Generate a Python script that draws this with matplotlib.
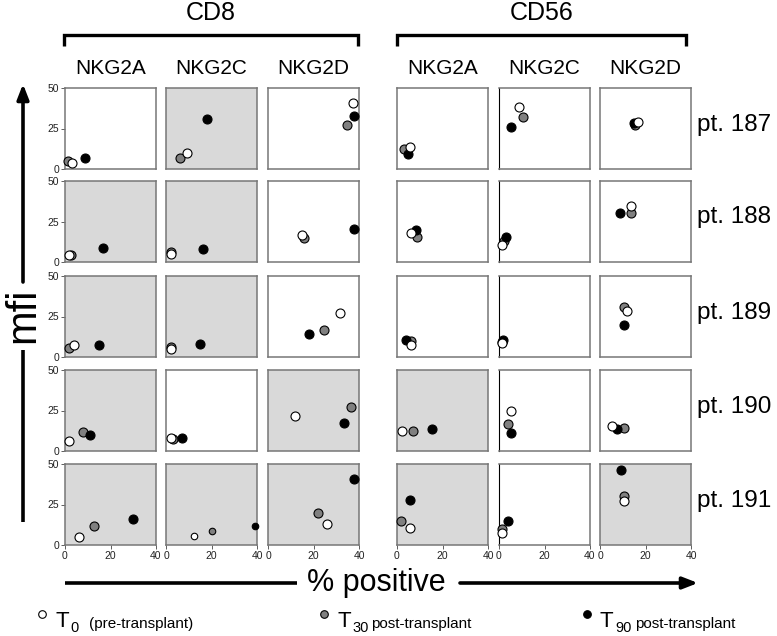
import matplotlib
matplotlib.use("Agg")
import matplotlib.pyplot as plt

plt.rcParams["font.family"] = ["Liberation Sans", "DejaVu Sans"]

groups = ["CD8", "CD56"]
receptors = ["NKG2A", "NKG2C", "NKG2D"]
patients = ["pt. 187", "pt. 188", "pt. 189", "pt. 190", "pt. 191"]

# columns: CD8 A, CD8 C, CD8 D, CD56 A, CD56 C, CD56 D
t0_pos = [
    [2.9, 9.1, 37.5, 5.7, 8.8, 16.8],
    [1.9, 2.2, 15.1, 6.2, 1.2, 13.5],
    [4.0, 2.2, 31.6, 6.2, 1.2, 12.0],
    [1.9, 2.2, 11.9, 2.3, 5.1, 5.1],
    [6.2, 12.2, 25.8, 5.7, 1.5, 10.4],
]
t0_mfi = [
    [3.9, 9.7, 40.6, 13.4, 38.3, 29.0],
    [4.3, 5.2, 16.7, 17.7, 10.5, 34.4],
    [7.1, 4.7, 27.4, 7.2, 8.6, 28.2],
    [6.4, 8.2, 21.4, 12.3, 24.7, 15.2],
    [5.0, 5.6, 12.8, 10.7, 7.6, 27.3],
]
t30_pos = [
    [1.5, 6.2, 34.6, 3.2, 10.7, 15.4],
    [2.5, 2.2, 16.0, 8.9, 2.2, 13.5],
    [1.9, 2.2, 24.8, 6.2, 1.5, 10.4],
    [7.8, 3.2, 36.6, 7.2, 4.1, 10.4],
    [12.9, 20.1, 21.8, 1.8, 1.5, 10.4],
]
t30_mfi = [
    [5.0, 7.0, 27.0, 12.3, 31.9, 27.0],
    [4.3, 6.2, 15.0, 15.2, 13.0, 30.0],
    [5.4, 6.0, 16.5, 9.9, 9.5, 31.0],
    [11.5, 7.2, 27.4, 12.3, 16.5, 14.4],
    [11.7, 8.6, 19.7, 14.6, 9.9, 30.2],
]
t90_pos = [
    [8.8, 18.0, 37.8, 5.0, 5.3, 15.1],
    [16.8, 16.1, 37.7, 8.4, 3.1, 8.9],
    [14.8, 15.1, 17.9, 4.0, 1.9, 10.4],
    [11.0, 7.2, 33.5, 15.3, 5.3, 7.5],
    [29.7, 39.0, 37.7, 5.7, 4.1, 9.2],
]
t90_mfi = [
    [6.8, 30.9, 33.0, 9.3, 25.9, 28.4],
    [8.4, 8.2, 20.6, 19.9, 15.6, 30.0],
    [7.1, 8.1, 14.2, 10.3, 10.3, 19.5],
    [10.1, 8.2, 17.3, 13.6, 11.1, 13.6],
    [15.9, 11.7, 40.9, 27.8, 14.6, 46.3],
]
# 1 = grey panel background
shaded = [
    [0, 1, 0, 0, 0, 0],
    [1, 1, 0, 0, 0, 0],
    [1, 1, 0, 0, 0, 0],
    [1, 0, 1, 1, 0, 0],
    [1, 1, 1, 1, 0, 1],
]

W, H = 777, 636
col_left = [65, 166, 268, 397, 499, 600]
row_top = [88, 181, 276, 370, 464]
pw, ph = 91, 81

fig = plt.figure(figsize=(W / 100, H / 100), dpi=100)

series = [
    (t30_pos, t30_mfi, "#808080"),
    (t90_pos, t90_mfi, "black"),
    (t0_pos, t0_mfi, "white"),
]

for r in range(5):
    for c in range(6):
        ax = fig.add_axes([col_left[c] / W, 1 - (row_top[r] + ph) / H, pw / W, ph / H])
        ax.set_xlim(0, 40)
        ax.set_ylim(0, 50)
        ax.set_facecolor("#d9d9d9" if shaded[r][c] else "white")
        for sp in ax.spines.values():
            sp.set_color("#777777")
            sp.set_linewidth(1.1)
        if c == 4:
            ax.spines["left"].set_color("black")
            ax.spines["left"].set_linewidth(0.8)
        size = 22 if (r == 4 and c == 1) else 42
        for xs, ys, col in series:
            ax.scatter(xs[r][c], ys[r][c], s=size, facecolor=col,
                       edgecolor="black", linewidth=0.8, clip_on=False, zorder=3)
        ax.tick_params(length=3, width=0.6, color="#444444", labelsize=7.5,
                       labelcolor="#222222", pad=1)
        if c == 0:
            ax.set_yticks([0, 25, 50])
        else:
            ax.set_yticks([])
        if r == 4:
            ax.set_xticks([0, 20, 40])
        else:
            ax.set_xticks([])

# overlay in pixel coordinates for labels, brackets and arrows
ov = fig.add_axes([0, 0, 1, 1], facecolor="none")
ov.set_xlim(0, W)
ov.set_ylim(H, 0)
ov.axis("off")

brackets = [(64, 358), (397, 686)]
for (x0, x1), g in zip(brackets, groups):
    ov.plot([x0, x0, x1, x1], [46, 35, 35, 46], color="black", lw=2.4,
            solid_joinstyle="miter", solid_capstyle="butt")
    ov.text((x0 + x1) / 2, 13, g, ha="center", va="center", fontsize=18)

for c in range(6):
    ov.text(col_left[c] + pw / 2, 68, receptors[c % 3], ha="center", va="center",
            fontsize=15)

for r in range(5):
    ov.text(697, row_top[r] + ph / 2 - 4, patients[r], ha="left", va="center",
            fontsize=17.5)

# y arrow with "mfi"
ov.annotate("", xy=(23, 84), xytext=(23, 282),
            arrowprops=dict(arrowstyle="-|>,head_length=0.9,head_width=0.35",
                            color="black", lw=2.6, shrinkA=0, shrinkB=0))
ov.plot([23, 23], [350, 522], color="black", lw=2.6, solid_capstyle="butt")
ov.text(23, 315, "mfi", rotation=90, ha="center", va="center", fontsize=30)

# x arrow with "% positive"
ov.plot([65, 297], [583, 583], color="black", lw=2.6, solid_capstyle="butt")
ov.annotate("", xy=(698, 583), xytext=(460, 583),
            arrowprops=dict(arrowstyle="-|>,head_length=0.9,head_width=0.35",
                            color="black", lw=2.6, shrinkA=0, shrinkB=0))
ov.text(376, 583, "% positive", ha="center", va="center", fontsize=22)

# legend: marker x, fill, subscript, note, note x
leg = [
    (42, "white", "0", "(pre-transplant)", 89),
    (324, "#808080", "30", "post-transplant", 371),
    (587, "black", "90", "post-transplant", 635),
]
for x, col, sub, note, nx in leg:
    ov.scatter([x], [614], s=30, facecolor=col, edgecolor="black", linewidth=0.8)
    ov.text(x + 13, 627, "T", ha="left", va="baseline", fontsize=16)
    ov.text(x + 28, 632, sub, ha="left", va="baseline", fontsize=10.5)
    ov.text(nx, 628, note, ha="left", va="baseline", fontsize=11)

fig.savefig("out.png", dpi=100)
